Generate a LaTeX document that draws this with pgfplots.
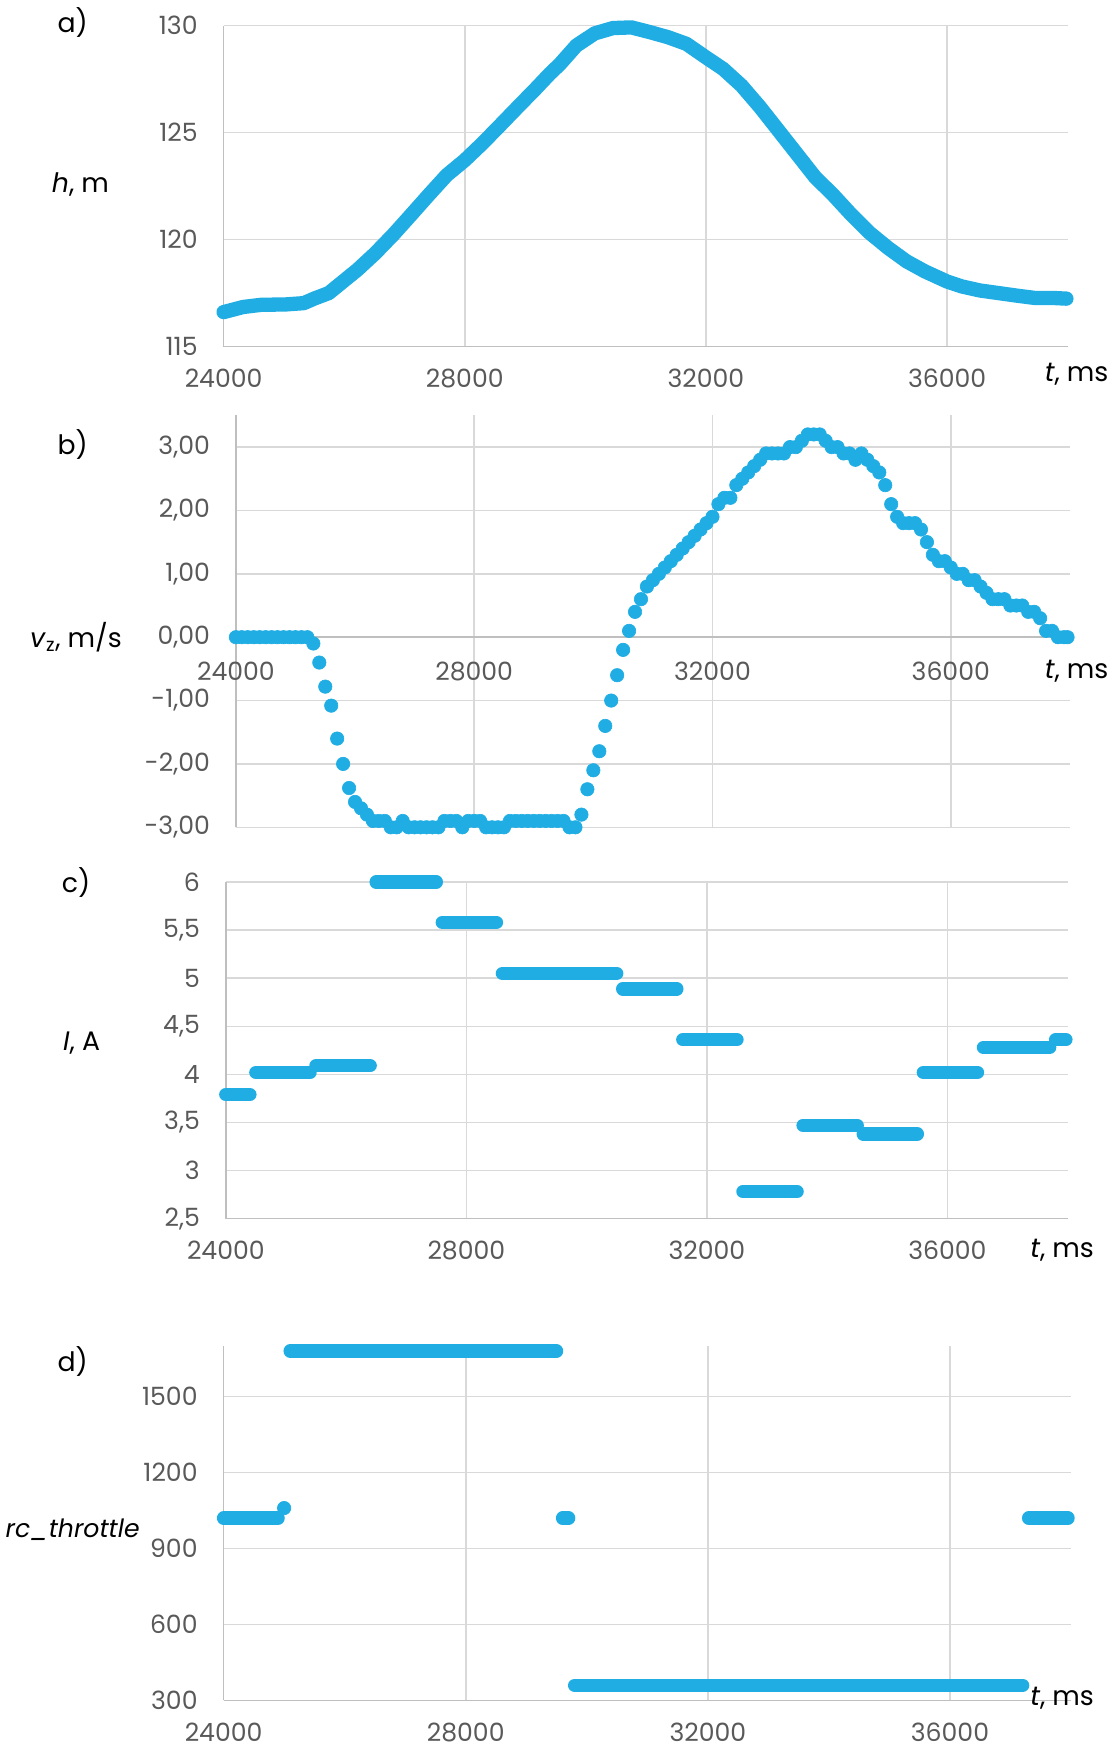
\documentclass[border=0pt]{standalone}
\usepackage{fontspec}
\setmainfont{Poppins}
\usepackage{pgfplots}
\pgfplotsset{compat=1.18}
\definecolor{dot}{RGB}{31,173,228}
\definecolor{gridc}{RGB}{217,217,217}
\definecolor{axc}{RGB}{191,191,191}
\definecolor{tickc}{RGB}{89,89,89}
\pgfplotsset{
 common/.style={
  scale only axis, clip=false,
  xmin=24000, xmax=38000, xtick={24000,28000,32000,36000},
  grid=major, grid style={draw=gridc, line width=1pt},
  major tick length=0pt,
  axis x line*=bottom, axis y line*=left,
  axis line style={draw=axc, line width=1pt, -},
  scaled x ticks=false, scaled y ticks=false,
  /pgf/number format/assume math mode=true,
  /pgf/number format/1000 sep={},
  tick label style={font=\fontsize{16}{16}\selectfont, text=tickc, inner sep=0pt},
  yticklabel style={anchor=east, xshift=-5.75mm},
  xticklabel style={anchor=north, yshift=-5mm},
 },
 seg/.style={draw=dot, line width=3mm, line cap=round, line join=round, no marks},
 dots/.style={only marks, mark=*, mark size=1.5mm, mark options={draw=dot, fill=dot}},
}
\newcommand{\lab}{\fontsize{17}{17}\selectfont}
\begin{document}
\begin{tikzpicture}
\useasboundingbox (0,0) rectangle (249.25mm,392mm);
% ---------- a) ----------
\begin{axis}[common, at={(50mm,314.5mm)}, anchor=south west,
  width=188.75mm, height=71.75mm, ymin=115, ymax=130, ytick={115,120,125,130}]
\addplot[draw=dot, line width=3.2mm, line cap=round, line join=round, no marks] coordinates {
(24000,116.61) (24325,116.85) (24620,116.95) (25035,116.97) (25330,117.03) (25510,117.25)
(25745,117.5) (25980,118.04) (26220,118.59) (26515,119.36) (26810,120.22) (27107,121.15)
(27400,122.08) (27700,123.01) (28000,123.71) (28290,124.49) (28585,125.34) (28880,126.2)
(29175,127.05) (29410,127.75) (29577,128.2) (29851,129.07) (30155,129.64) (30460,129.89)
(30764,129.92) (31069,129.7) (31373,129.46) (31677,129.15) (32000,128.52) (32286,127.98)
(32590,127.2) (32895,126.2) (33200,125.11) (33504,124.02) (33808,122.93) (34113,122.08)
(34417,121.15) (34722,120.3) (35026,119.6) (35330,118.98) (35635,118.51) (36000,118.04)
(36244,117.81) (36548,117.62) (36852,117.5) (37157,117.38) (37461,117.27) (37766,117.27)
(37979,117.24)};
\end{axis}
% ---------- b) ----------
\begin{axis}[common, at={(52.75mm,207mm)}, anchor=south west,
  width=186.5mm, height=92.1mm, ymin=-3, ymax=3.5, ytick={-3,-2,-1,0,1,2,3},
  axis x line*=middle, hide obscured x ticks=false, hide obscured y ticks=false,
  xticklabel style={anchor=north, yshift=-0.5mm},
  yticklabels={{-3,00},{-2,00},{-1,00},{0,00},{1,00},{2,00},{3,00}}]
\addplot[dots] coordinates {
(24000,0)(24100,0)(24200,0)(24300,0)(24400,0)(24500,0)(24600,0)(24700,0)(24800,0)(24900,0)
(25000,0)(25100,0)(25200,0)(25300,-0.10)(25400,-0.40)(25500,-0.78)(25600,-1.08)(25700,-1.60)
(25800,-2.00)(25900,-2.38)(26000,-2.60)(26100,-2.70)(26200,-2.80)(26300,-2.90)(26400,-2.90)
(26500,-2.90)(26600,-3.00)(26700,-3.00)(26800,-2.90)(26900,-3.00)(27000,-3.00)(27100,-3.00)
(27200,-3.00)(27300,-3.00)(27400,-3.00)(27500,-2.90)(27600,-2.90)(27700,-2.90)(27800,-3.00)
(27900,-2.90)(28000,-2.90)(28100,-2.90)(28200,-3.00)(28300,-3.00)(28400,-3.00)(28500,-3.00)
(28600,-2.90)(28700,-2.90)(28800,-2.90)(28900,-2.90)(29000,-2.90)(29100,-2.90)(29200,-2.90)
(29300,-2.90)(29400,-2.90)(29500,-2.90)(29600,-3.00)(29700,-3.00)(29800,-2.80)(29900,-2.40)
(30000,-2.10)(30100,-1.80)(30200,-1.40)(30300,-1.00)(30400,-0.60)(30500,-0.20)(30600,0.10)
(30700,0.40)(30800,0.60)(30900,0.80)(31000,0.90)(31100,1.00)(31200,1.10)(31300,1.20)
(31400,1.30)(31500,1.40)(31600,1.50)(31700,1.60)(31800,1.70)(31900,1.80)(32000,1.90)
(32100,2.10)(32200,2.20)(32300,2.20)(32400,2.40)(32500,2.50)(32600,2.60)(32700,2.70)
(32800,2.80)(32900,2.90)(33000,2.90)(33100,2.90)(33200,2.90)(33300,3.00)(33400,3.00)
(33500,3.10)(33600,3.20)(33700,3.20)(33800,3.20)(33900,3.10)(34000,3.00)(34100,3.00)
(34200,2.90)(34300,2.90)(34400,2.80)(34500,2.90)(34600,2.80)(34700,2.70)(34800,2.60)
(34900,2.40)(35000,2.10)(35100,1.90)(35200,1.80)(35300,1.80)(35400,1.80)(35500,1.70)
(35600,1.50)(35700,1.30)(35800,1.20)(35900,1.20)(36000,1.10)(36100,1.00)(36200,1.00)
(36300,0.90)(36400,0.90)(36500,0.80)(36600,0.70)(36700,0.60)(36800,0.60)(36900,0.60)
(37000,0.50)(37100,0.50)(37200,0.50)(37300,0.40)(37400,0.40)(37500,0.30)(37600,0.10)
(37700,0.10)(37800,0.00)(37900,0.00)(37960,0.00)};
\end{axis}
% ---------- c) ----------
\begin{axis}[common, at={(50.5mm,119.5mm)}, anchor=south west,
  width=188.25mm, height=75.25mm, ymin=2.5, ymax=6, ytick={2.5,3,3.5,4,4.5,5,5.5,6},
  unbounded coords=jump,
  yticklabels={{2,5},{3},{3,5},{4},{4,5},{5},{5,5},{6}}]
\addplot[seg] coordinates {
(24000,3.79)(24400,3.79)(24450,nan)
(24500,4.02)(25400,4.02)(25450,nan)
(25500,4.09)(26400,4.09)(26450,nan)
(26500,6.00)(27500,6.00)(27550,nan)
(27600,5.58)(28500,5.58)(28550,nan)
(28600,5.05)(30500,5.05)(30550,nan)
(30600,4.89)(31500,4.89)(31550,nan)
(31600,4.36)(32500,4.36)(32550,nan)
(32600,2.78)(33500,2.78)(33550,nan)
(33600,3.47)(34500,3.47)(34550,nan)
(34600,3.38)(35500,3.38)(35550,nan)
(35600,4.02)(36500,4.02)(36550,nan)
(36600,4.28)(37700,4.28)(37750,nan)
(37800,4.36)(37970,4.36)};
\end{axis}
% ---------- d) ----------
\begin{axis}[common, at={(50mm,11.75mm)}, anchor=south west,
  width=189.5mm, height=79.25mm, ymin=300, ymax=1700, ytick={300,600,900,1200,1500},
  unbounded coords=jump]
\addplot[seg] coordinates {
(24000,1020)(24900,1020)(24950,nan)
(25100,1680)(29500,1680)(29550,nan)
(29600,1020)(29700,1020)(29750,nan)
(29800,360)(37200,360)(37250,nan)
(37300,1020)(37950,1020)};
\addplot[dots] coordinates {(25000,1060)};
\end{axis}
% ---------- labels ----------
\node[font=\lab] at (16.25mm,387mm) {a)};
\node[font=\lab] at (18mm,350.75mm) {\textit{h}, m};
\node[font=\lab] at (240.75mm,308.25mm) {\textit{t}, ms};
\node[font=\lab] at (16.25mm,292.5mm) {b)};
\node[font=\lab] at (17mm,249.5mm) {\textit{v}\textsubscript{z}, m/s};
\node[font=\lab] at (240.75mm,242mm) {\textit{t}, ms};
\node[font=\lab] at (17mm,194.75mm) {c)};
\node[font=\lab] at (18.25mm,158.75mm) {\textit{I}, A};
\node[font=\lab] at (237.5mm,112.5mm) {\textit{t}, ms};
\node[font=\lab] at (16.25mm,87.5mm) {d)};
\node[font=\fontsize{16}{16}\selectfont] at (16.25mm,50mm) {\textit{rc\_throttle}};
\node[font=\lab] at (237.5mm,12.25mm) {\textit{t}, ms};
\end{tikzpicture}
\end{document}
